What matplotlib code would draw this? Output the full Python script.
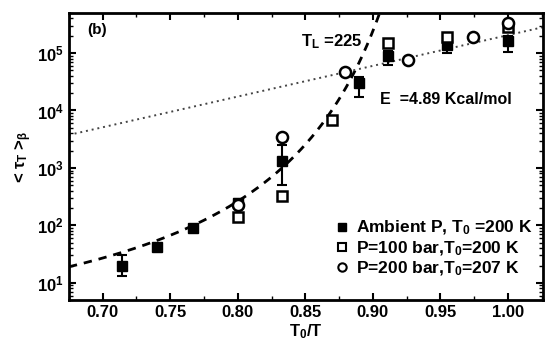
import numpy as np
import matplotlib
matplotlib.use("Agg")
import matplotlib.pyplot as plt
from matplotlib.ticker import MultipleLocator, LogLocator, NullFormatter, FixedLocator
from matplotlib.lines import Line2D

plt.rcParams['font.family'] = ['Liberation Sans', 'DejaVu Sans']
plt.rcParams['font.weight'] = 'bold'
plt.rcParams['mathtext.fontset'] = 'custom'
plt.rcParams['mathtext.rm'] = 'Liberation Sans:bold'
plt.rcParams['mathtext.it'] = 'Liberation Sans:bold'
plt.rcParams['mathtext.bf'] = 'Liberation Sans:bold'

# Ambient P, T0 = 200 K (filled squares)
amb_x = [0.714, 0.740, 0.767, 0.800, 0.833, 0.890, 0.911, 0.955, 1.000]
amb_y = [20, 42, 90, 250, 1300, 30000, 90000, 140000, 160000]
amb_err_lo = [7, 4, 8, 40, 800, 13000, 28000, 40000, 55000]
amb_err_hi = [10, 5, 10, 40, 1200, 8000, 20000, 30000, 40000]

# P = 100 bar, T0 = 200 K (open squares)
p100_x = [0.800, 0.833, 0.870, 0.911, 0.955, 1.000]
p100_y = [140, 330, 6800, 150000, 190000, 280000]

# P = 200 bar, T0 = 207 K (open circles)
p200_x = [0.800, 0.833, 0.879, 0.926, 0.974, 1.000]
p200_y = [230, 3500, 47000, 75000, 190000, 330000]

labels = [r'Ambient P, T$_0$ =200 K', r'P=100 bar,T$_0$=200 K', r'P=200 bar,T$_0$=207 K']

# Fit parameters
vft_a, vft_b, vft_uc = -0.545, 0.593, 1.0      # log10 tau = a + b/(uc - u)
E_kcal, T0_K, arr_c = 4.89, 200.0, -0.033      # Arrhenius line

fig = plt.figure(figsize=(5.47, 3.47), dpi=100)
ax = fig.add_axes([0.126, 0.135, 0.867, 0.828])

u = np.linspace(0.675, 0.9065, 300)
ax.plot(u, 10 ** (vft_a + vft_b / (vft_uc - u)), color='black', lw=2.0,
        linestyle=(0, (3, 2.5)), zorder=2)
R = 1.987e-3
slope = E_kcal / (R * T0_K * np.log(10))
u2 = np.linspace(0.675, 1.026, 50)
ax.plot(u2, 10 ** (arr_c + slope * u2), color='#444444', lw=1.4,
        linestyle=(0, (1, 2)), zorder=2)

ax.errorbar(amb_x, amb_y, yerr=[amb_err_lo, amb_err_hi], fmt='s', color='black',
            ms=7, capsize=3.5, elinewidth=1.5, capthick=1.5, zorder=3)
ax.plot(p100_x, p100_y, 's', mfc='white', mec='black', mew=1.8, ms=7.5, zorder=4)
ax.plot(p200_x, p200_y, 'o', mfc='white', mec='black', mew=1.8, ms=8, zorder=4)

ax.set_yscale('log')
ax.set_xlim(0.675, 1.026)
ax.set_ylim(5, 5e5)
ax.xaxis.set_major_locator(MultipleLocator(0.05))
ax.xaxis.set_minor_locator(MultipleLocator(0.025))
ax.yaxis.set_major_locator(FixedLocator([1e1, 1e2, 1e3, 1e4, 1e5]))
ax.yaxis.set_minor_locator(LogLocator(base=10, subs=np.arange(2, 10), numticks=20))
ax.yaxis.set_minor_formatter(NullFormatter())
ax.xaxis.set_major_formatter(plt.FuncFormatter(lambda v, p: f'{v:.2f}'))
ax.tick_params(which='both', direction='in', top=True, right=True, labelsize=12)
ax.tick_params(which='major', length=5, width=1.5)
ax.tick_params(which='minor', length=3, width=1.0)
for lbl in ax.get_xticklabels() + ax.get_yticklabels():
    lbl.set_fontweight('bold')
for s in ax.spines.values():
    s.set_linewidth(2)

ax.set_xlabel(r'T$_0$/T', fontsize=12, labelpad=2, fontweight='bold')
ax.set_ylabel(r'< $\tau_T$ >$_\beta$', fontsize=12, labelpad=2, fontweight='bold')

ax.text(0.038, 0.94, '(b)', transform=ax.transAxes, fontsize=11, va='center')
ax.text(0.49, 0.90, r'T$_L$ =225', transform=ax.transAxes, fontsize=12, va='center')
ax.text(0.655, 0.70, 'E  =4.89 Kcal/mol', transform=ax.transAxes, fontsize=11.5, va='center')

handles = [
    Line2D([], [], marker='s', ls='none', color='black', ms=6),
    Line2D([], [], marker='s', ls='none', mfc='white', mec='black', mew=1.5, ms=6),
    Line2D([], [], marker='o', ls='none', mfc='white', mec='black', mew=1.5, ms=6),
]
ax.legend(handles, labels, loc='lower right', bbox_to_anchor=(1.0, 0.04), frameon=False,
          fontsize=12.5, handlelength=0.8, handletextpad=0.4, labelspacing=0.12,
          borderaxespad=0.2)

fig.savefig('out.png', dpi=100)
